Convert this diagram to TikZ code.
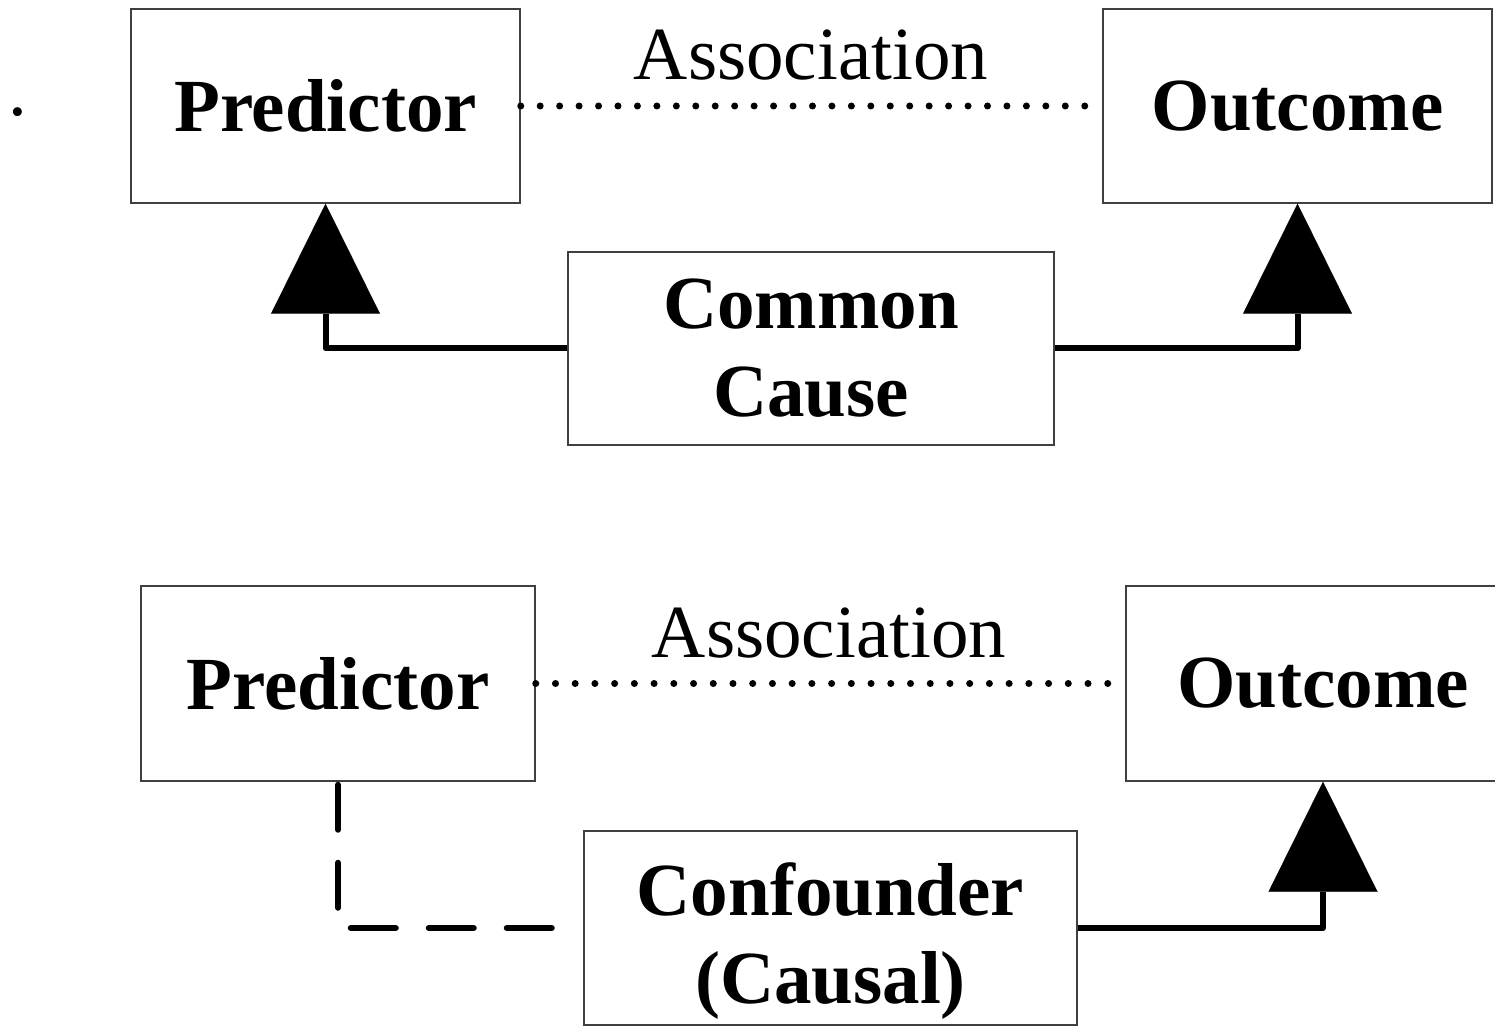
\documentclass[tikz,border=0pt]{standalone}
\usepackage{fontspec}
\setmainfont{Liberation Serif}
\usetikzlibrary{arrows.meta}
\begin{document}
\begin{tikzpicture}[x=0.5pt,y=-0.5pt,
  box/.style={draw=black!75,line width=0.75pt,inner sep=0pt,align=center,
    font=\fontsize{37.5}{44}\selectfont\bfseries},
  lbl/.style={inner sep=0pt,anchor=base,font=\fontsize{37.5}{44}\selectfont},
  conn/.style={line width=3pt,line join=round,
    -{Triangle[length=55pt,width=54.5pt,line width=0.01pt]}},
  dashconn/.style={line width=3pt,line cap=round,line join=round,
    dash pattern=on 22.5pt off 16.5pt,dash phase=37.5pt},
  dotline/.style={line width=3.5pt,line cap=round,dash pattern=on 0pt off #1}]
\useasboundingbox (0,0) rectangle (1495,1026);
% stray dot
\node[lbl] (dot) at (18,116) {.};
% top diagram
\node[box,minimum width=194.5pt,minimum height=97pt] (pred1) at (325.5,106) {Predictor};
\node[box,minimum width=194.5pt,minimum height=97pt] (out1) at (1297.5,106) {Outcome};
\node[box,minimum width=243pt,minimum height=96.5pt] (cc) at (811,348.5) {Common\\Cause};
\node[lbl] (assoc1) at (811,80) {Association};
\draw[dotline=9.724pt] (pred1.east) -- ([xshift=-8pt]out1.west);
\draw[conn] (cc.west) -| (pred1.south);
\draw[conn] (cc.east) -| (out1.south);
% bottom diagram
\node[box,minimum width=197pt,minimum height=97.5pt] (pred2) at (338,683.5) {Predictor};
\node[box,minimum width=197pt,minimum height=97.5pt] (out2) at (1323,683.5) {Outcome};
\node[box,minimum width=246.5pt,minimum height=97pt,text height=80pt,text depth=5pt] (conf) at (830.5,928) {Confounder\\(Causal)};
\node[lbl] (assoc2) at (829,657) {Association};
\draw[dotline=9.862pt] (pred2.east) -- ([xshift=-8pt]out2.west);
\coordinate (dend) at ([xshift=-14.5pt]conf.west);
\draw[dashconn] (pred2.south) |- (dend);
\draw[conn] (conf.east) -| (out2.south);
\end{tikzpicture}
\end{document}
